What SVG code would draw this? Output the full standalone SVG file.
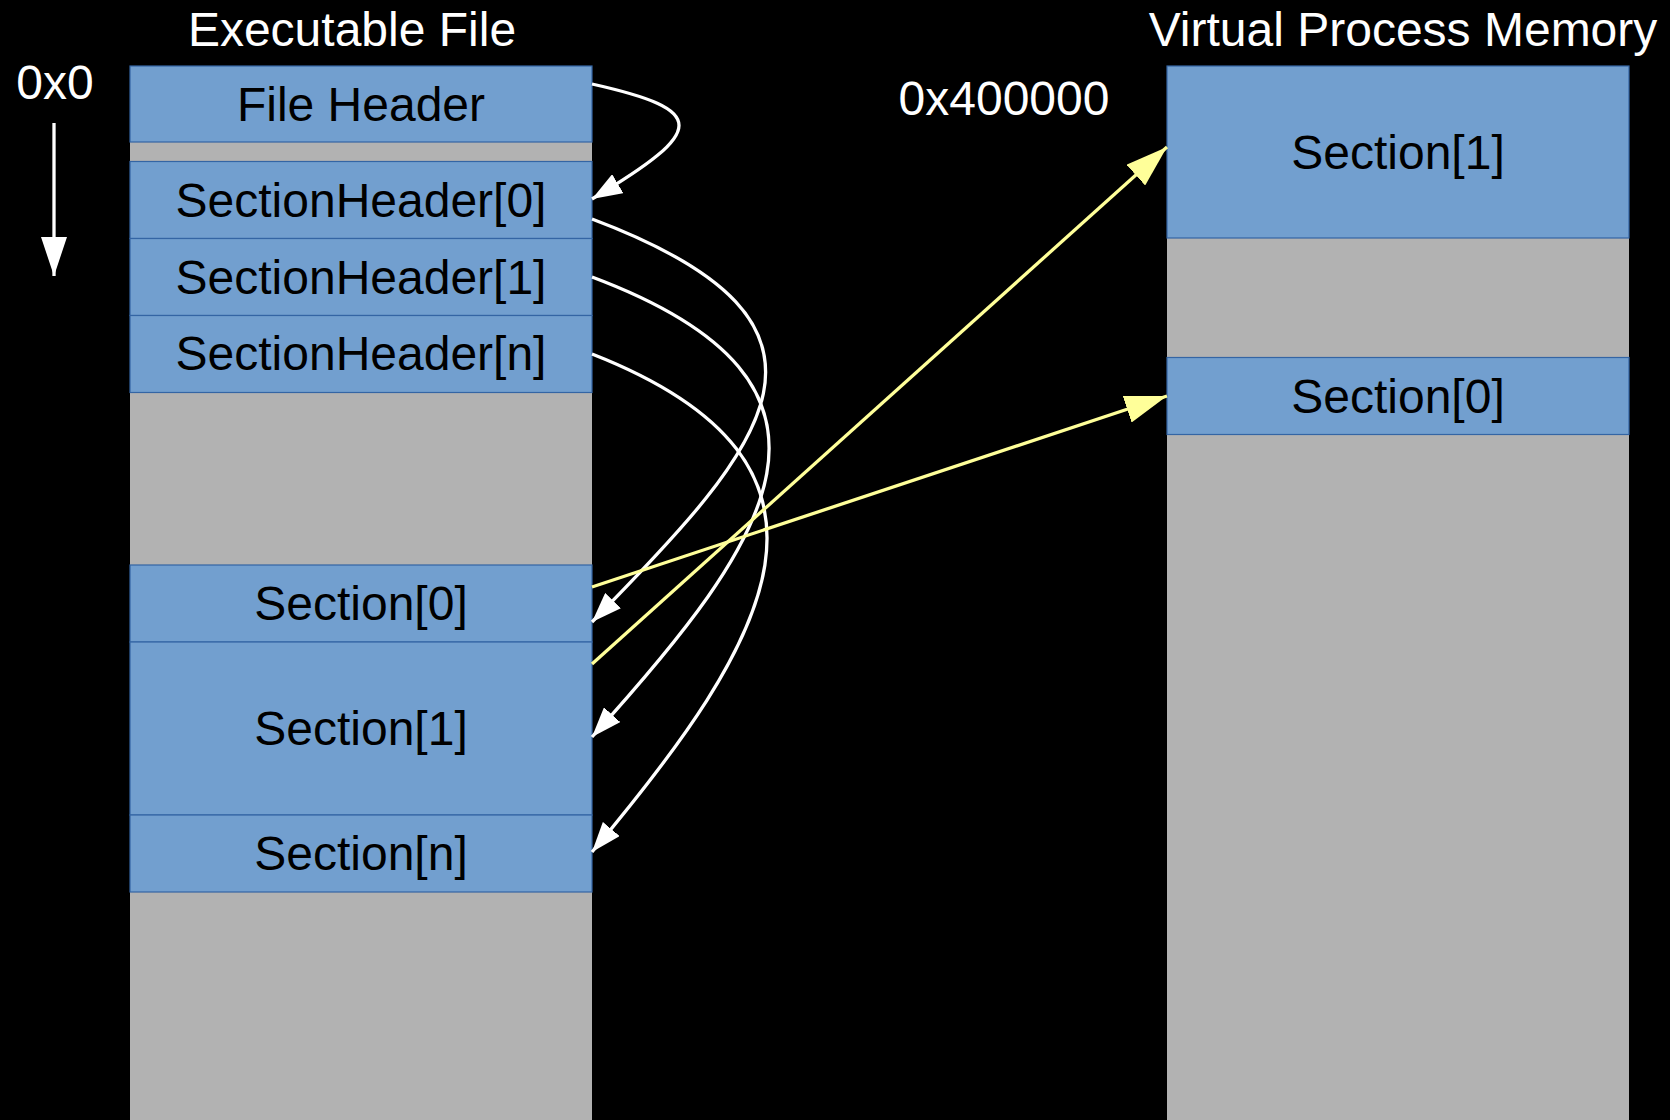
<svg xmlns="http://www.w3.org/2000/svg" width="1670" height="1120" viewBox="0 0 1670 1120">
<style>
.bg{fill:#000000}
.col{fill:#b2b2b2}
.box{fill:#729fcf;stroke:#3465a4;stroke-width:1.2}
.lbl{font-family:"Liberation Sans",Arial,sans-serif;font-size:48px;fill:#000000;text-anchor:middle}
.ttl{font-family:"Liberation Sans",Arial,sans-serif;font-size:48px;fill:#ffffff;text-anchor:middle}
.wl{fill:none;stroke:#ffffff;stroke-width:3.3}
.yl{fill:none;stroke:#ffff99;stroke-width:3.3}
</style>
<defs>
<marker id="wa" markerUnits="userSpaceOnUse" viewBox="0 0 30 22" refX="30" refY="11" markerWidth="30" markerHeight="22" orient="auto">
<path d="M0,0 L30,11 L0,22 Z" fill="#ffffff"/>
</marker>
<marker id="ya" markerUnits="userSpaceOnUse" viewBox="0 0 42 28" refX="42" refY="14" markerWidth="42" markerHeight="28" orient="auto">
<path d="M0,0 L42,14 L0,28 Z" fill="#ffff99"/>
</marker>
<marker id="da" markerUnits="userSpaceOnUse" viewBox="0 0 39 26" refX="39" refY="13" markerWidth="39" markerHeight="26" orient="auto">
<path d="M0,0 L39,13 L0,26 Z" fill="#ffffff"/>
</marker>
</defs>
<rect class="bg" x="0" y="0" width="1670" height="1120"/>

<g id="titles">
<text class="ttl" x="352" y="46">Executable File</text>
<text class="ttl" x="1403" y="46">Virtual Process Memory</text>
<text class="ttl" x="55" y="99">0x0</text>
<text class="ttl" x="1004" y="115">0x400000</text>
</g>

<g id="address-arrow">
<line class="wl" x1="54" y1="123" x2="54" y2="276" marker-end="url(#da)"/>
</g>

<g id="executable-file">
<rect class="col" x="130" y="66" width="462" height="1060"/>
<g id="file-header"><rect class="box" x="130" y="66" width="462" height="76"/><text class="lbl" x="361" y="121">File Header</text></g>
<g id="section-header-0"><rect class="box" x="130" y="161.5" width="462" height="77"/><text class="lbl" x="361" y="217">SectionHeader[0]</text></g>
<g id="section-header-1"><rect class="box" x="130" y="238.5" width="462" height="77"/><text class="lbl" x="361" y="294">SectionHeader[1]</text></g>
<g id="section-header-n"><rect class="box" x="130" y="315.5" width="462" height="77"/><text class="lbl" x="361" y="370">SectionHeader[n]</text></g>
<g id="file-section-0"><rect class="box" x="130" y="565" width="462" height="77"/><text class="lbl" x="361" y="620">Section[0]</text></g>
<g id="file-section-1"><rect class="box" x="130" y="642" width="462" height="173"/><text class="lbl" x="361" y="745">Section[1]</text></g>
<g id="file-section-n"><rect class="box" x="130" y="815" width="462" height="77"/><text class="lbl" x="361" y="870">Section[n]</text></g>
</g>

<g id="virtual-memory">
<rect class="col" x="1167" y="66" width="462" height="1060"/>
<g id="mem-section-1"><rect class="box" x="1167" y="66" width="462" height="172"/><text class="lbl" x="1398" y="169">Section[1]</text></g>
<g id="mem-section-0"><rect class="box" x="1167" y="357.5" width="462" height="77"/><text class="lbl" x="1398" y="413">Section[0]</text></g>
</g>

<g id="connectors">
<path class="wl" d="M592,84 C708,110 708,130 592,199" marker-end="url(#wa)"/>
<path class="wl" d="M592,219 C874,325 767,444 592,622" marker-end="url(#wa)"/>
<path class="wl" d="M592,277 C880,385 770,540 592,737" marker-end="url(#wa)"/>
<path class="wl" d="M592,354 C875,465 770,640 592,852" marker-end="url(#wa)"/>
<line class="yl" x1="592" y1="587" x2="1167" y2="396" marker-end="url(#ya)"/>
<line class="yl" x1="592" y1="664" x2="1167" y2="147" marker-end="url(#ya)"/>
</g>
</svg>
